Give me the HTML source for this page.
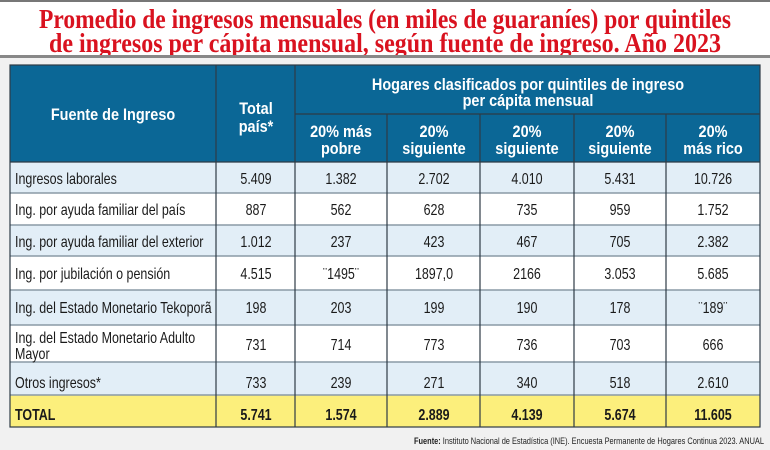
<!DOCTYPE html>
<html><head><meta charset="utf-8"><style>
html,body{margin:0;padding:0;background:#fff}
svg{display:block}
</style></head><body>
<svg width="770" height="450" viewBox="0 0 770 450" xmlns="http://www.w3.org/2000/svg">
<rect width="770" height="450" fill="#fff"/>
<rect x="0" y="0" width="770" height="2" fill="#777"/>
<g font-family="Liberation Serif, serif" font-weight="bold" fill="#d9121f" font-size="27" text-anchor="middle">
<text x="385" y="28" textLength="692" lengthAdjust="spacingAndGlyphs">Promedio de ingresos mensuales (en miles de guaraníes) por quintiles</text>
<text x="385" y="52" textLength="672" lengthAdjust="spacingAndGlyphs">de ingresos per cápita mensual, según fuente de ingreso. Año 2023</text>
</g>
<rect x="0" y="55" width="770" height="3" fill="#888"/>
<rect x="0" y="58" width="770" height="392" fill="#f1f1f1"/>
<rect x="10" y="65" width="750" height="97" fill="#0b6796"/>
<rect x="10" y="162" width="750" height="31" fill="#e2eef7"/>
<rect x="10" y="193" width="750" height="32" fill="#fff"/>
<rect x="10" y="225" width="750" height="31" fill="#e2eef7"/>
<rect x="10" y="256" width="750" height="34" fill="#fff"/>
<rect x="10" y="290" width="750" height="35" fill="#e2eef7"/>
<rect x="10" y="325" width="750" height="37" fill="#fff"/>
<rect x="10" y="362" width="750" height="33" fill="#e2eef7"/>
<rect x="10" y="395" width="750" height="32" fill="#fcef7c"/>
<g stroke="#8a9aa6" stroke-width="1.5">
<line x1="10" y1="193" x2="760" y2="193"/><line x1="10" y1="225" x2="760" y2="225"/>
<line x1="10" y1="256" x2="760" y2="256"/><line x1="10" y1="290" x2="760" y2="290"/>
<line x1="10" y1="325" x2="760" y2="325"/><line x1="10" y1="362" x2="760" y2="362"/>
<line x1="10" y1="395" x2="760" y2="395"/>
</g>
<g stroke="#2e3b45" stroke-width="1.2" fill="none">
<rect x="10" y="65" width="750" height="362"/>
<line x1="216" y1="65" x2="216" y2="427"/><line x1="295" y1="65" x2="295" y2="427"/>
<line x1="387" y1="114" x2="387" y2="427"/><line x1="480" y1="114" x2="480" y2="427"/>
<line x1="574" y1="114" x2="574" y2="427"/><line x1="666" y1="114" x2="666" y2="427"/>
<line x1="295" y1="114" x2="760" y2="114"/>
<line x1="10" y1="162" x2="760" y2="162"/>
</g>
<g font-family="Liberation Sans, sans-serif" font-weight="bold" fill="#fff" font-size="17" text-anchor="middle">
<text transform="translate(113,120) scale(.85,1)">Fuente de Ingreso</text>
<text transform="translate(256,114) scale(.85,1)">Total</text>
<text transform="translate(256,132) scale(.85,1)">país*</text>
<text transform="translate(528,90) scale(.85,1)">Hogares clasificados por quintiles de ingreso</text>
<text transform="translate(528,106) scale(.85,1)">per cápita mensual</text>
<text transform="translate(341,137) scale(.85,1)">20% más</text>
<text transform="translate(341,154) scale(.85,1)">pobre</text>
<text transform="translate(434,137) scale(.85,1)">20%</text>
<text transform="translate(434,154) scale(.85,1)">siguiente</text>
<text transform="translate(527,137) scale(.85,1)">20%</text>
<text transform="translate(527,154) scale(.85,1)">siguiente</text>
<text transform="translate(620,137) scale(.85,1)">20%</text>
<text transform="translate(620,154) scale(.85,1)">siguiente</text>
<text transform="translate(713,137) scale(.85,1)">20%</text>
<text transform="translate(713,154) scale(.85,1)">más rico</text>
</g>
<g font-family="Liberation Sans, sans-serif" fill="#1a1a1a" font-size="16">
<g>
<text transform="translate(15,184) scale(.78,1)">Ingresos laborales</text>
<text transform="translate(15,215) scale(.78,1)">Ing. por ayuda familiar del país</text>
<text transform="translate(15,247) scale(.78,1)">Ing. por ayuda familiar del exterior</text>
<text transform="translate(15,279) scale(.78,1)">Ing. por jubilación o pensión</text>
<text transform="translate(15,313) scale(.78,1)">Ing. del Estado Monetario Tekoporã</text>
<text transform="translate(15,343) scale(.78,1)">Ing. del Estado Monetario Adulto</text>
<text transform="translate(15,359) scale(.78,1)">Mayor</text>
<text transform="translate(15,388) scale(.78,1)">Otros ingresos*</text>
<text transform="translate(15,420) scale(.78,1)" font-weight="bold">TOTAL</text>
</g>
<g text-anchor="middle">
<text transform="translate(256,184) scale(.78,1)">5.409</text><text transform="translate(341,184) scale(.78,1)">1.382</text><text transform="translate(434,184) scale(.78,1)">2.702</text><text transform="translate(527,184) scale(.78,1)">4.010</text><text transform="translate(620,184) scale(.78,1)">5.431</text><text transform="translate(713,184) scale(.78,1)">10.726</text>
<text transform="translate(256,215) scale(.78,1)">887</text><text transform="translate(341,215) scale(.78,1)">562</text><text transform="translate(434,215) scale(.78,1)">628</text><text transform="translate(527,215) scale(.78,1)">735</text><text transform="translate(620,215) scale(.78,1)">959</text><text transform="translate(713,215) scale(.78,1)">1.752</text>
<text transform="translate(256,247) scale(.78,1)">1.012</text><text transform="translate(341,247) scale(.78,1)">237</text><text transform="translate(434,247) scale(.78,1)">423</text><text transform="translate(527,247) scale(.78,1)">467</text><text transform="translate(620,247) scale(.78,1)">705</text><text transform="translate(713,247) scale(.78,1)">2.382</text>
<text transform="translate(256,279) scale(.78,1)">4.515</text><text transform="translate(341,279) scale(.78,1)">¨1495¨</text><text transform="translate(434,279) scale(.78,1)">1897,0</text><text transform="translate(527,279) scale(.78,1)">2166</text><text transform="translate(620,279) scale(.78,1)">3.053</text><text transform="translate(713,279) scale(.78,1)">5.685</text>
<text transform="translate(256,313) scale(.78,1)">198</text><text transform="translate(341,313) scale(.78,1)">203</text><text transform="translate(434,313) scale(.78,1)">199</text><text transform="translate(527,313) scale(.78,1)">190</text><text transform="translate(620,313) scale(.78,1)">178</text><text transform="translate(713,313) scale(.78,1)">¨189¨</text>
<text transform="translate(256,350) scale(.78,1)">731</text><text transform="translate(341,350) scale(.78,1)">714</text><text transform="translate(434,350) scale(.78,1)">773</text><text transform="translate(527,350) scale(.78,1)">736</text><text transform="translate(620,350) scale(.78,1)">703</text><text transform="translate(713,350) scale(.78,1)">666</text>
<text transform="translate(256,388) scale(.78,1)">733</text><text transform="translate(341,388) scale(.78,1)">239</text><text transform="translate(434,388) scale(.78,1)">271</text><text transform="translate(527,388) scale(.78,1)">340</text><text transform="translate(620,388) scale(.78,1)">518</text><text transform="translate(713,388) scale(.78,1)">2.610</text>
<g font-weight="bold">
<text transform="translate(256,420) scale(.78,1)">5.741</text><text transform="translate(341,420) scale(.78,1)">1.574</text><text transform="translate(434,420) scale(.78,1)">2.889</text><text transform="translate(527,420) scale(.78,1)">4.139</text><text transform="translate(620,420) scale(.78,1)">5.674</text><text transform="translate(713,420) scale(.78,1)">11.605</text>
</g>
</g>
</g>
<text x="764" y="444" font-family="Liberation Sans, sans-serif" font-size="9.5" fill="#222" text-anchor="end" textLength="350" lengthAdjust="spacingAndGlyphs"><tspan font-weight="bold">Fuente:</tspan> Instituto Nacional de Estadística (INE). Encuesta Permanente de Hogares Continua 2023. ANUAL</text>
</svg>
</body></html>
